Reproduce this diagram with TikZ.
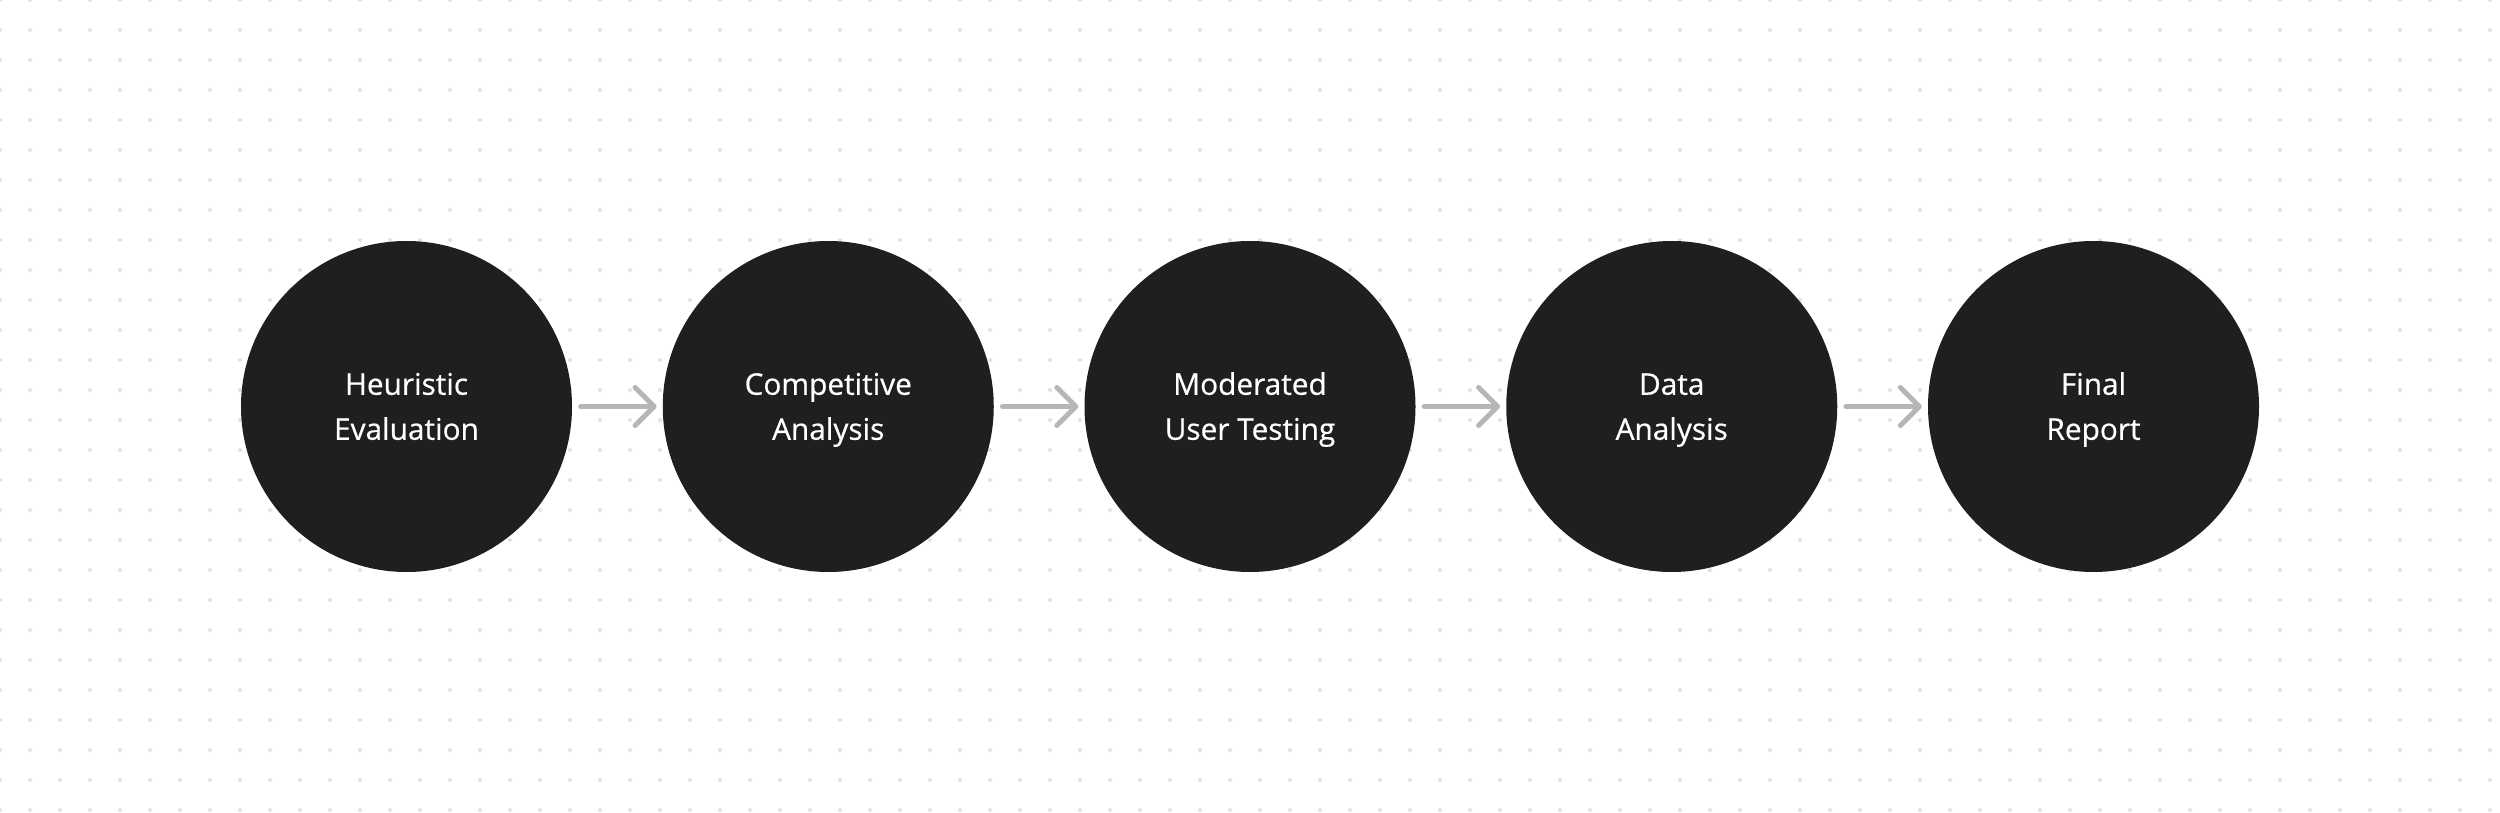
\documentclass[tikz,border=0pt]{standalone}
\usepackage{fontspec}
\setmainfont{Open Sans}
\newfontfamily\stagefont{Open Sans}[FakeBold=0.6]
\usepackage{tikz}
\usetikzlibrary{arrows.meta}

\definecolor{stagefill}{HTML}{1F1F1F}
\definecolor{flowgray}{HTML}{B6B6B6}
\definecolor{dotgray}{HTML}{E2E2E2}

% two label lines with fixed baselines
\newcommand{\stagelines}[2]{\rule{0pt}{21.5pt}\smash{#1}\\\smash{#2}}

\tikzset{
  stage/.style={circle, fill=stagefill, draw=none, minimum size=331pt, inner sep=0pt,
    text=white, align=center, font=\stagefont\fontsize{29.8pt}{45pt}\selectfont},
  flow/.style={draw=flowgray, line width=5pt, line cap=round,
    -{Straight Barb[length=19pt,width=38pt,round]},
    shorten <=8.5pt, shorten >=6pt}
}

\begin{document}
\begin{tikzpicture}[x=1pt,y=-1pt]
  % Define the spacing of the stages
  \def\gap{421.75}

  % Background and dot grid
  \fill[white] (0,0) rectangle (2500,813);
  \useasboundingbox (0,0) rectangle (2500,813);
  \foreach \i in {0,...,83} {
    \foreach \j in {0,...,27}
      \fill[dotgray] (30*\i,30*\j) circle (2pt);
  }

  % Draw the stages
  \foreach \i/\txt in {1/{\stagelines{Heuristic}{Evaluation}}, 2/{\stagelines{Competitive}{Analysis}},
                       3/{\stagelines{Moderated}{User Testing}}, 4/{\stagelines{Data}{Analysis}},
                       5/{\stagelines{Final}{Report}}} {
    \node[stage] (S\i) at ({406.5+\gap*(\i-1)}, 406.5) {\txt};
  }

  % Draw the arrows between stages
  \foreach \i [evaluate=\i as \j using int(\i+1)] in {1,...,4} {
    \draw[flow] (S\i) -- (S\j);
  }

\end{tikzpicture}
\end{document}
